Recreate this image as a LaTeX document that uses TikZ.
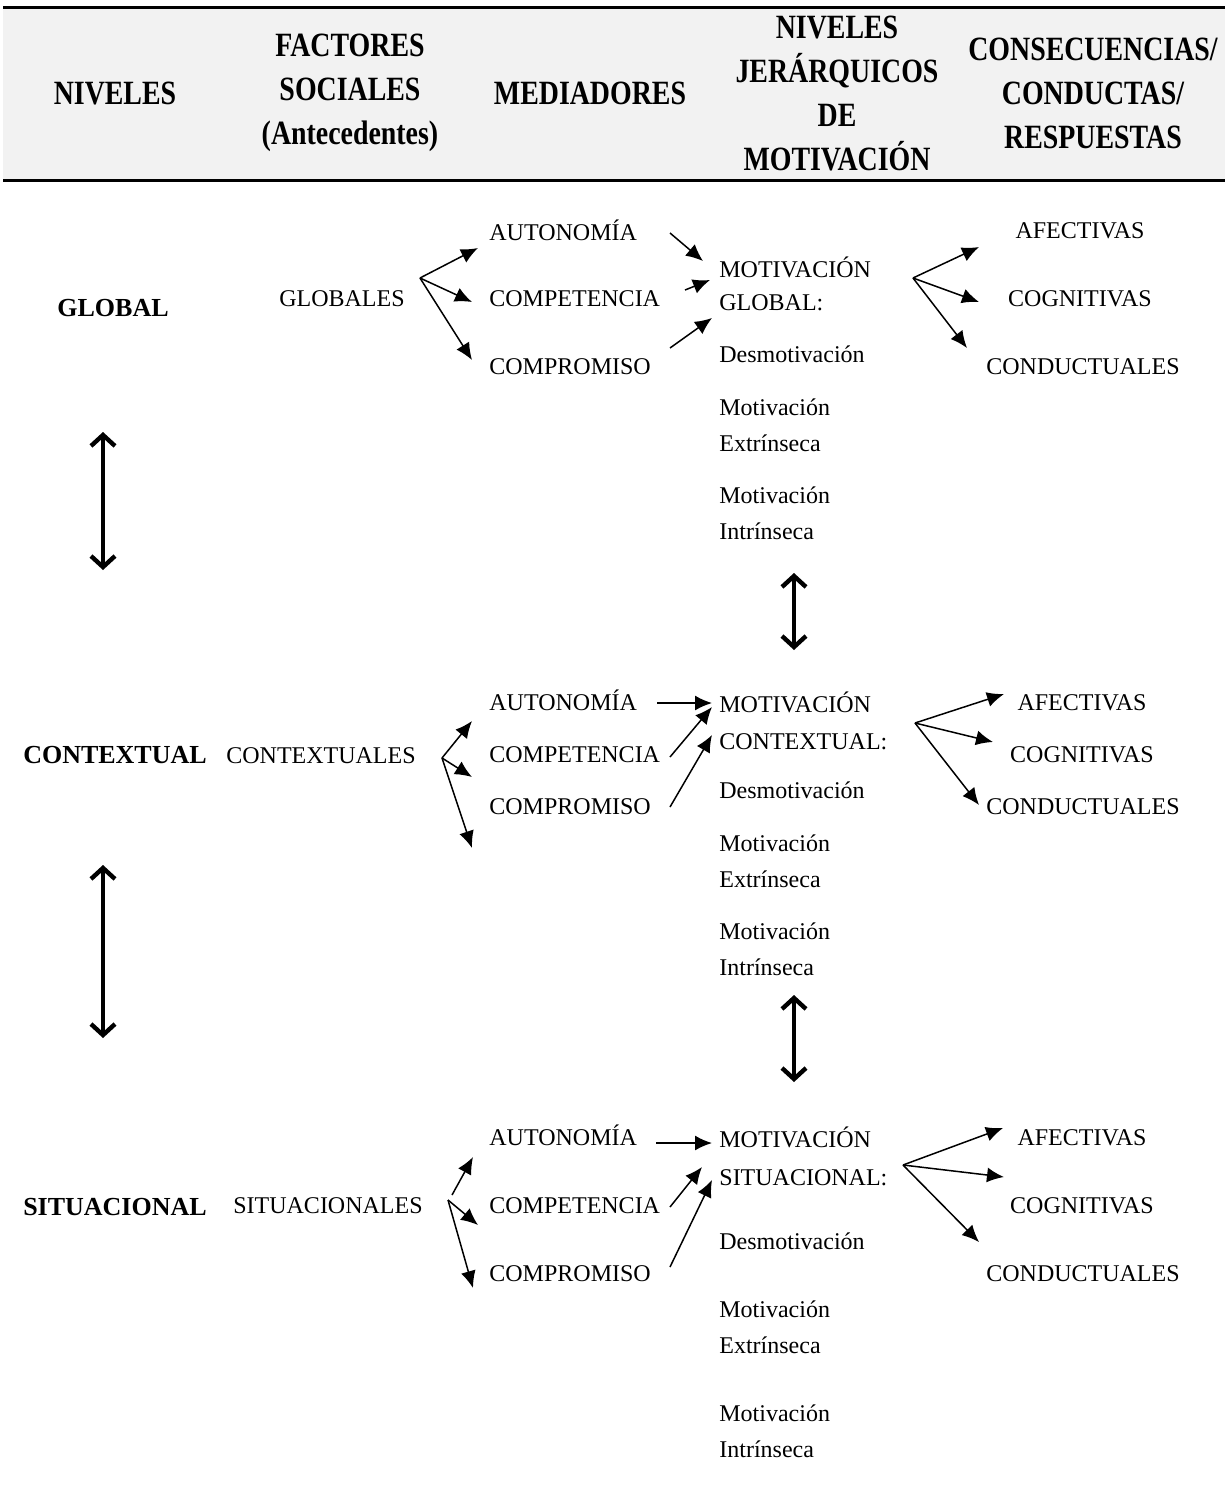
\documentclass[tikz,border=0pt]{standalone}
\usepackage{fontspec}
\setmainfont{Liberation Serif}
\newfontfamily\headfont[FakeStretch=0.82]{Liberation Serif}
\usetikzlibrary{arrows.meta}

\begin{document}
\begin{tikzpicture}[
    x=0.5pt, y=-0.5pt,
    >={Latex[length=8.5pt,width=7.5pt]},
    head/.style={
        font=\headfont\fontsize{17}{22}\selectfont\bfseries,
        align=center,
        inner sep=0pt
    },
    level/.style={font=\fontsize{13}{16}\selectfont\bfseries, anchor=base, inner sep=0pt},
    txt/.style={font=\fontsize{12}{14}\selectfont, anchor=base west, inner sep=0pt},
    ctxt/.style={font=\fontsize{12}{14}\selectfont, anchor=base, inner sep=0pt},
    mot/.style={font=\fontsize{12}{18}\selectfont, anchor=west, align=left, inner sep=0pt},
    link/.style={->, line width=0.75pt},
    twoway/.style={
        {Straight Barb[length=5.5pt,width=12pt]}-{Straight Barb[length=5.5pt,width=12pt]},
        line width=2.2pt
    }
]

\useasboundingbox (0,0) rectangle (1225,1494);

% header band
\fill[gray!10] (3,7) rectangle (1225,180);
\draw[line width=1.5pt] (3,7) -- (1225,7);
\draw[line width=1.5pt] (3,180) -- (1225,180);

\node[head] (hniv) at (115,93) {NIVELES};
\node[head] (hfac) at (350,93) {FACTORES\\SOCIALES\\(Antecedentes)};
\node[head] (hmed) at (590,93) {MEDIADORES};
\node[head] (hjer) at (837,93) {NIVELES\\JERÁRQUICOS\\DE\\MOTIVACIÓN};
\node[head] (hcon) at (1093,93) {CONSECUENCIAS/\\CONDUCTAS/\\RESPUESTAS};

% global
\node[level] (glob) at (113,316) {GLOBAL};
\node[ctxt] (fglob) at (342,306) {GLOBALES};
\node[txt] (aut1) at (489,240) {AUTONOMÍA};
\node[txt] (comp1) at (489,306) {COMPETENCIA};
\node[txt] (cpr1) at (489,374) {COMPROMISO};
\node[mot, font=\fontsize{12}{16.5}\selectfont] (mot1) at (719,284) {MOTIVACIÓN\\GLOBAL:};
\node[txt] (des1) at (719,362) {Desmotivación};
\node[mot] (ext1) at (719,425) {Motivación\\Extrínseca};
\node[mot] (int1) at (719,513) {Motivación\\Intrínseca};
\node[ctxt] (afe1) at (1080,238) {AFECTIVAS};
\node[ctxt] (cog1) at (1080,306) {COGNITIVAS};
\node[ctxt] (con1) at (1083,374) {CONDUCTUALES};

\coordinate (g0) at (420,278);
\coordinate (ga) at (478,248);
\coordinate (gb) at (472,302);
\coordinate (gc) at (472,360);
\coordinate (gas) at (670,233);
\coordinate (gat) at (703,261);
\coordinate (gbs) at (685,290);
\coordinate (gbt) at (710,280);
\coordinate (gcs) at (670,348);
\coordinate (gct) at (712,318);
\coordinate (go) at (913,278);
\coordinate (goa) at (979,247);
\coordinate (gob) at (979,302);
\coordinate (goc) at (967,348);

\draw[link] (g0) -- (ga);
\draw[link] (g0) -- (gb);
\draw[link] (g0) -- (gc);
\draw[link] (gas) -- (gat);
\draw[link] (gbs) -- (gbt);
\draw[link] (gcs) -- (gct);
\draw[link] (go) -- (goa);
\draw[link] (go) -- (gob);
\draw[link] (go) -- (goc);

% contextual
\node[level] (ctx) at (115,763) {CONTEXTUAL};
\node[ctxt] (fctx) at (321,763) {CONTEXTUALES};
\node[txt] (aut2) at (489,710) {AUTONOMÍA};
\node[txt] (comp2) at (489,762) {COMPETENCIA};
\node[txt] (cpr2) at (489,814) {COMPROMISO};
\node[mot, font=\fontsize{12}{18.5}\selectfont] (mot2) at (719,721) {MOTIVACIÓN\\CONTEXTUAL:};
\node[txt] (des2) at (719,798) {Desmotivación};
\node[mot] (ext2) at (719,861) {Motivación\\Extrínseca};
\node[mot] (int2) at (719,949) {Motivación\\Intrínseca};
\node[ctxt] (afe2) at (1082,710) {AFECTIVAS};
\node[ctxt] (cog2) at (1082,762) {COGNITIVAS};
\node[ctxt] (con2) at (1083,814) {CONDUCTUALES};

\coordinate (c0) at (442,758);
\coordinate (ca) at (472,721);
\coordinate (cb) at (472,777);
\coordinate (cc) at (472,848);
\coordinate (cas) at (657,703);
\coordinate (cat) at (712,703);
\coordinate (cbs) at (670,757);
\coordinate (cbt) at (712,707);
\coordinate (ccs) at (670,807);
\coordinate (cct) at (712,735);
\coordinate (co) at (915,723);
\coordinate (coa) at (1004,694);
\coordinate (cob) at (993,742);
\coordinate (coc) at (979,805);

\draw[link] (c0) -- (ca);
\draw[link] (c0) -- (cb);
\draw[link] (c0) -- (cc);
\draw[link] (cas) -- (cat);
\draw[link] (cbs) -- (cbt);
\draw[link] (ccs) -- (cct);
\draw[link] (co) -- (coa);
\draw[link] (co) -- (cob);
\draw[link] (co) -- (coc);

% situational
\node[level] (sit) at (115,1215) {SITUACIONAL};
\node[ctxt] (fsit) at (328,1213) {SITUACIONALES};
\node[txt] (aut3) at (489,1145) {AUTONOMÍA};
\node[txt] (comp3) at (489,1213) {COMPETENCIA};
\node[txt] (cpr3) at (489,1281) {COMPROMISO};
\node[mot, font=\fontsize{12}{19}\selectfont] (mot3) at (719,1156) {MOTIVACIÓN\\SITUACIONAL:};
\node[txt] (des3) at (719,1249) {Desmotivación};
\node[mot] (ext3) at (719,1327) {Motivación\\Extrínseca};
\node[mot] (int3) at (719,1431) {Motivación\\Intrínseca};
\node[ctxt] (afe3) at (1082,1145) {AFECTIVAS};
\node[ctxt] (cog3) at (1082,1213) {COGNITIVAS};
\node[ctxt] (con3) at (1083,1281) {CONDUCTUALES};

\coordinate (s0a) at (452,1195);
\coordinate (s0) at (448,1200);
\coordinate (sa) at (473,1157);
\coordinate (sb) at (478,1225);
\coordinate (sc) at (473,1288);
\coordinate (sas) at (656,1143);
\coordinate (sat) at (712,1143);
\coordinate (sbs) at (670,1207);
\coordinate (sbt) at (702,1167);
\coordinate (scs) at (670,1267);
\coordinate (sct) at (712,1180);
\coordinate (so) at (903,1165);
\coordinate (soa) at (1003,1128);
\coordinate (sob) at (1004,1177);
\coordinate (soc) at (979,1242);

\draw[link] (s0a) -- (sa);
\draw[link] (s0) -- (sb);
\draw[link] (s0) -- (sc);
\draw[link] (sas) -- (sat);
\draw[link] (sbs) -- (sbt);
\draw[link] (scs) -- (sct);
\draw[link] (so) -- (soa);
\draw[link] (so) -- (sob);
\draw[link] (so) -- (soc);

% links between levels
\coordinate (l1a) at (103,432);
\coordinate (l1b) at (103,570);
\coordinate (l2a) at (103,865);
\coordinate (l2b) at (103,1038);
\coordinate (m1a) at (794,573);
\coordinate (m1b) at (794,650);
\coordinate (m2a) at (794,995);
\coordinate (m2b) at (794,1082);

\draw[twoway] (l1a) -- (l1b);
\draw[twoway] (l2a) -- (l2b);
\draw[twoway] (m1a) -- (m1b);
\draw[twoway] (m2a) -- (m2b);

\end{tikzpicture}
\end{document}
